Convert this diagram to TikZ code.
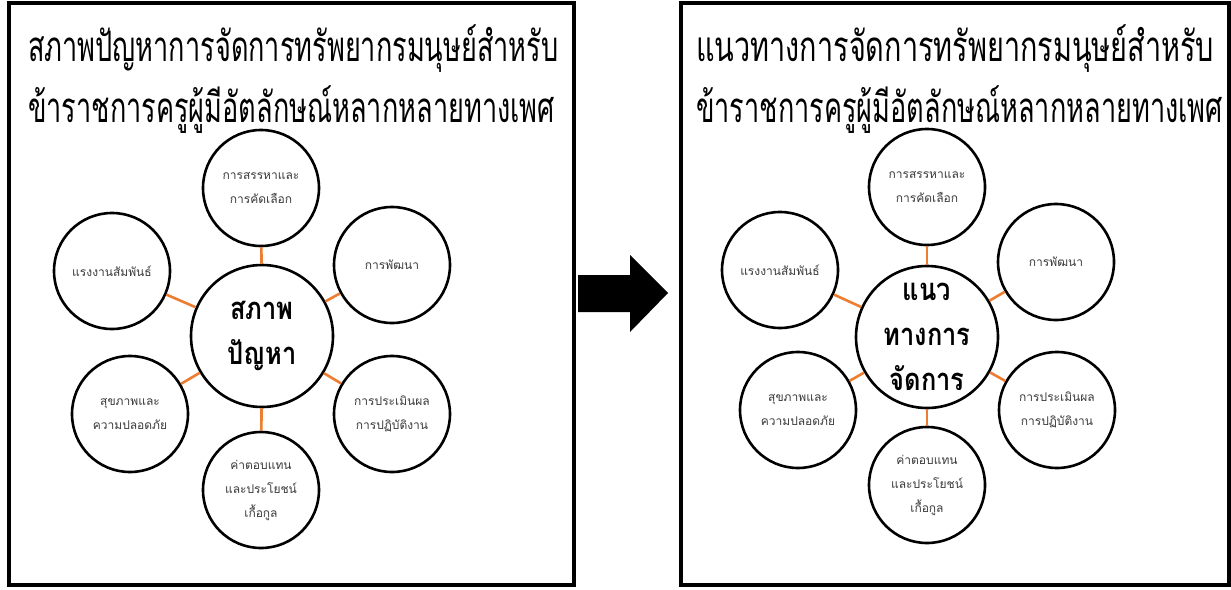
\documentclass[tikz,border=0pt]{standalone}
\usepackage{fontspec}
\newfontfamily\thaifont[Script=Thai]{Loma}
\newfontfamily\headfont[Script=Thai,FakeStretch=0.645]{Loma}
\newfontfamily\wideheadfont[Script=Thai,FakeStretch=0.686]{Loma}
\newfontfamily\hubfont[Script=Thai,FakeStretch=0.82]{Loma}
\usetikzlibrary{positioning}
\definecolor{linkorange}{HTML}{ED7D31}
\definecolor{labelgray}{HTML}{3A3A3A}
\tikzset{
    frame/.style={draw,line width=4pt},
    hub/.style={circle,draw,line width=2.6pt,minimum size=142pt,inner sep=0pt,align=center,
        font=\hubfont\bfseries\fontsize{31}{45}\selectfont},
    topic/.style={circle,draw,line width=2.6pt,minimum size=116pt,inner sep=0pt,align=center,
        text=labelgray,font=\thaifont\fontsize{12}{24}\selectfont},
    link/.style={linkorange,line width=2.6pt},
    heading/.style={anchor=base west,inner sep=0pt,font=\headfont\fontsize{42}{50}\selectfont}
}
\begin{document}
\begin{tikzpicture}[x=1pt,y=-1pt]
        \useasboundingbox (0,0) rectangle (1231,589);

        \draw[frame] (9,3) rectangle (574,585);
        \draw[frame] (681,3) rectangle (1229,585);

        \node[heading] (lhead1) at (28,61) {สภาพปัญหาการจัดการทรัพยากรมนุษย์สำหรับ};
        \node[heading] (lhead2) at (28,122) {ข้าราชการครูผู้มีอัตลักษณ์หลากหลายทางเพศ};
        \node[heading,font=\wideheadfont\fontsize{42}{50}\selectfont] (rhead1) at (696,61) {แนวทางการจัดการทรัพยากรมนุษย์สำหรับ};
        \node[heading] (rhead2) at (696,122) {ข้าราชการครูผู้มีอัตลักษณ์หลากหลายทางเพศ};

        \node[hub] (lhub) at (262,336) {สภาพ\\ปัญหา};
        \node[topic] (ltop) at (261,188) {การสรรหาและ\\การคัดเลือก};
        \node[topic] (lur) at (392,265) {การพัฒนา};
        \node[topic] (lul) at (112,271) {แรงงานสัมพันธ์};
        \node[topic] (lll) at (130,414) {สุขภาพและ\\ความปลอดภัย};
        \node[topic] (llr) at (392,414) {การประเมินผล\\การปฏิบัติงาน};
        \node[topic] (lbot) at (261,490) {ค่าตอบแทน\\และประโยชน์\\เกื้อกูล};

        \foreach \t in {ltop,lur,lul,lll,llr,lbot}
            \draw[link] (lhub) -- (\t);

        \fill (578,275) -- (630,275) -- (630,255) -- (668,293) -- (630,332) -- (630,312) -- (578,312) -- cycle;

        \node[hub] (rhub) at (927,337) {แนว\\ทางการ\\จัดการ};
        \node[topic] (rtop) at (927,187) {การสรรหาและ\\การคัดเลือก};
        \node[topic] (rur) at (1056,262) {การพัฒนา};
        \node[topic] (rul) at (780,270) {แรงงานสัมพันธ์};
        \node[topic] (rll) at (798,410) {สุขภาพและ\\ความปลอดภัย};
        \node[topic] (rlr) at (1057,410) {การประเมินผล\\การปฏิบัติงาน};
        \node[topic] (rbot) at (927,485) {ค่าตอบแทน\\และประโยชน์\\เกื้อกูล};

        \foreach \t in {rtop,rur,rul,rll,rlr,rbot}
            \draw[link] (rhub) -- (\t);
    \end{tikzpicture}
\end{document}
